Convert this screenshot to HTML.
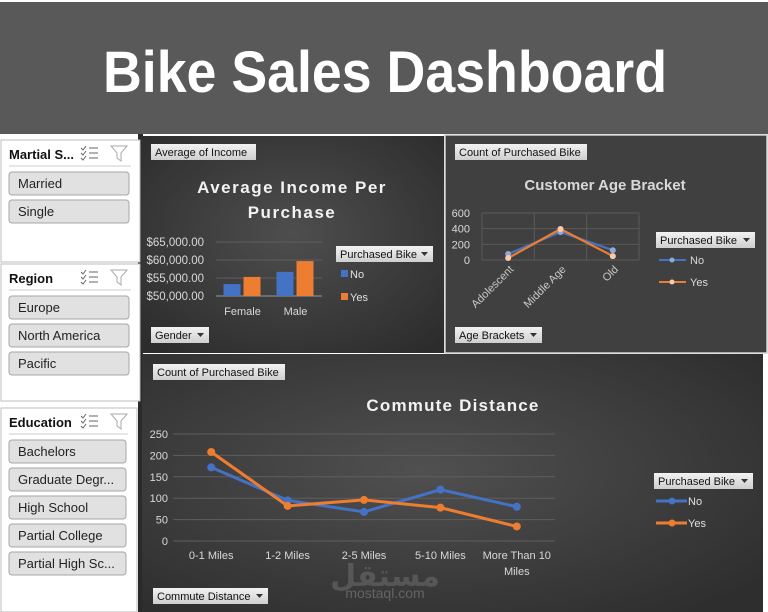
<!DOCTYPE html>
<html><head><meta charset="utf-8"><style>
html,body{margin:0;padding:0;background:#fff;}
svg{display:block;font-family:"Liberation Sans",sans-serif;}
</style></head><body>
<svg id="s" width="768" height="612" viewBox="0 0 768 612" xmlns="http://www.w3.org/2000/svg">
<defs>
<radialGradient id="g1" cx="50%" cy="45%" r="70%"><stop offset="0" stop-color="#4e4e4e"/><stop offset="1" stop-color="#2c2c2c"/></radialGradient>
<radialGradient id="g3" cx="45%" cy="45%" r="70%"><stop offset="0" stop-color="#505050"/><stop offset="1" stop-color="#2e2e2e"/></radialGradient>
<linearGradient id="btn" x1="0" y1="0" x2="0" y2="1"><stop offset="0" stop-color="#f2f2f2"/><stop offset="1" stop-color="#cfcfcf"/></linearGradient>
</defs>
<rect x="0" y="0" width="768" height="612" fill="#ffffff"/>
<g>
<rect x="0" y="2" width="768" height="132" fill="#595959"/>
<text x="385" y="92" text-anchor="middle" font-size="58" font-weight="bold" fill="#fff" textLength="564" lengthAdjust="spacingAndGlyphs">Bike Sales Dashboard</text>
</g>
<rect x="138" y="134" width="5" height="478" fill="#2a2a2a"/>
<rect x="141" y="136" width="303" height="217" fill="url(#g1)"/>
<rect x="445" y="135" width="322" height="218" fill="#404040" stroke="#d0d0d0" stroke-width="1.5"/>
<rect x="142" y="354" width="621" height="258" fill="url(#g3)"/>
<g id="slicers"></g>
<g id="c1"></g><g id="c2"></g><g id="c3"></g>
<text x="385" y="586" text-anchor="middle" font-size="30" font-weight="bold" fill="#6a6a6a" opacity="0.6" font-family="'DejaVu Sans',sans-serif">مستقل</text>
<text x="385" y="598" text-anchor="middle" font-size="14" fill="#777" opacity="0.7">mostaql.com</text>
</svg>
<script>
// Chart 1: Average Income
const genderCats = ["Female", "Male"];
const incomeNo = [53300, 56700];
const incomeYes = [55300, 59700];
const incomeTicks = [50000, 55000, 60000, 65000];
// Chart 2: Age bracket
const ageCats = ["Adolescent", "Middle Age", "Old"];
const ageNo = [77, 358, 125];
const ageYes = [25, 395, 50];
const ageTicks = [0, 200, 400, 600];
// Chart 3: Commute
const commuteCats = ["0-1 Miles", "1-2 Miles", "2-5 Miles", "5-10 Miles", "More Than 10|Miles"];
const commuteNo = [172, 95, 68, 120, 80];
const commuteYes = [208, 82, 96, 78, 34];
const commuteTicks = [0, 50, 100, 150, 200, 250];

const NS = "http://www.w3.org/2000/svg";
function mk(parent, tag, attrs, text) {
  const e = document.createElementNS(NS, tag);
  for (const k in attrs) e.setAttribute(k, attrs[k]);
  if (text !== undefined) e.textContent = text;
  parent.appendChild(e);
  return e;
}
const BLUE = "#4472c4", ORANGE = "#ed7d31";

function fieldBtn(g, x, y, w, label, arrow, name) {
  const b = mk(g, "g", {});
  
  
  mk(b, "rect", {x: x, y: y, width: w, height: 16, fill: "url(#btn)"});
  mk(b, "text", {x: x + 4, y: y + 12, "font-size": 11, fill: "#111"}, label);
  if (arrow) mk(b, "path", {d: `M${x + w - 12} ${y + 6} h7 l-3.5 4z`, fill: "#333"});
}

// Slicers
(function () {
  const g = document.getElementById("slicers");
  const slicers = [
    {title: "Martial S...", y: 140, h: 122, w: 139, items: ["Married", "Single"], name: "marital-status-slicer"},
    {title: "Region", y: 264, h: 137, w: 139, items: ["Europe", "North America", "Pacific"], name: "region-slicer"},
    {title: "Education", y: 408, h: 204, w: 136, items: ["Bachelors", "Graduate Degr...", "High School", "Partial College", "Partial High Sc..."], name: "education-slicer"}
  ];
  slicers.forEach(s => {
    const sg = mk(g, "g", {});
    
    
    mk(sg, "rect", {x: 1, y: s.y, width: s.w, height: s.h, fill: "#fff", stroke: "#bcbcbc"});
    mk(sg, "text", {x: 9, y: s.y + 19, "font-size": 13, "font-weight": "bold", fill: "#111"}, s.title);
    const ic = mk(sg, "g", {stroke: "#666", "stroke-width": 1, fill: "none"});
    
    
    const ix = 81, iy = s.y + 7;
    for (let i = 0; i < 3; i++) { mk(ic, "path", {d: `M${ix} ${iy + i * 5 + 1} l2 2 l3 -4 M${ix + 8} ${iy + i * 5 + 1} h9`}); }
    const fl = mk(sg, "path", {d: `M${111} ${s.y + 6} h16 l-6 7 v8 l-4 -3 v-5z`, fill: "none", stroke: "#aaa"});
    
    
    mk(sg, "line", {x1: 9, y1: s.y + 26, x2: s.w - 8, y2: s.y + 26, stroke: "#ccc"});
    s.items.forEach((it, i) => {
      const by = s.y + 32 + i * 28;
      const bg = mk(sg, "g", {});
      
      
      mk(bg, "rect", {x: 9, y: by, width: s.w - 9 - 10, height: 23, rx: 3, fill: "#e1e1e1", stroke: "#a6a6a6"});
      mk(bg, "text", {x: 18, y: by + 16, "font-size": 13, fill: "#222"}, it);
    });
  });
})();

// Chart 1
(function () {
  const g = document.getElementById("c1");
  fieldBtn(g, 151, 144, 105, "Average of Income", false, "average-of-income-field");
  fieldBtn(g, 151, 327, 58, "Gender", true, "gender-field-button");
  mk(g, "text", {x: 292, y: 193, "text-anchor": "middle", "font-size": 17, "font-weight": "bold", fill: "#f2f2f2", "letter-spacing": 1.5}, "Average Income Per");
  mk(g, "text", {x: 292, y: 218, "text-anchor": "middle", "font-size": 17, "font-weight": "bold", fill: "#f2f2f2", "letter-spacing": 1.5}, "Purchase");
  const x0 = 216, x1 = 322, yb = 296, yt = 242;
  const vmin = incomeTicks[0], vmax = incomeTicks[incomeTicks.length - 1];
  const y = v => yb - (v - vmin) / (vmax - vmin) * (yb - yt);
  incomeTicks.forEach(t => {
    mk(g, "line", {x1: x0, x2: x1, y1: y(t), y2: y(t), stroke: t === vmin ? "#999" : "#5e5e5e"});
    mk(g, "text", {x: 204, y: y(t) + 4, "text-anchor": "end", "font-size": 11.5, fill: "#d9d9d9"}, "$" + t.toLocaleString("en-US") + ".00");
  });
  const cw = (x1 - x0) / genderCats.length;
  genderCats.forEach((c, i) => {
    const cx = x0 + cw * (i + 0.5);
    const bn = mk(g, "rect", {x: cx - 19, y: y(incomeNo[i]), width: 17, height: yb - y(incomeNo[i]), fill: BLUE});
    
    
    const by = mk(g, "rect", {x: cx + 1, y: y(incomeYes[i]), width: 17, height: yb - y(incomeYes[i]), fill: ORANGE});
    
    
    mk(g, "text", {x: cx, y: 315, "text-anchor": "middle", "font-size": 11, fill: "#d9d9d9"}, c);
  });
  fieldBtn(g, 336, 246, 97, "Purchased Bike", true, "purchased-bike-filter");
  mk(g, "rect", {x: 341, y: 270, width: 7, height: 7, fill: BLUE});
  mk(g, "text", {x: 350, y: 278, "font-size": 11, fill: "#e0e0e0"}, "No");
  mk(g, "rect", {x: 341, y: 293, width: 7, height: 7, fill: ORANGE});
  mk(g, "text", {x: 350, y: 301, "font-size": 11, fill: "#e0e0e0"}, "Yes");
})();

// Chart 2
(function () {
  const g = document.getElementById("c2");
  fieldBtn(g, 455, 144, 132, "Count of Purchased Bike", false, "count-of-purchased-bike-field");
  fieldBtn(g, 455, 327, 87, "Age Brackets", true, "age-brackets-field-button");
  mk(g, "text", {x: 605, y: 190, "text-anchor": "middle", "font-size": 15, "font-weight": "bold", fill: "#d9d9d9"}, "Customer Age Bracket");
  const x0 = 482, x1 = 639, yb = 260, yt = 213;
  const vmax = ageTicks[ageTicks.length - 1];
  const y = v => yb - v / vmax * (yb - yt);
  const cw = (x1 - x0) / ageCats.length;
  ageTicks.forEach(t => {
    mk(g, "line", {x1: x0, x2: x1, y1: y(t), y2: y(t), stroke: "#5a5a5a"});
    mk(g, "text", {x: 470, y: y(t) + 4, "text-anchor": "end", "font-size": 11, fill: "#d9d9d9"}, t);
  });
  for (let i = 0; i <= ageCats.length; i++) mk(g, "line", {x1: x0 + cw * i, x2: x0 + cw * i, y1: yt, y2: yb, stroke: "#5a5a5a"});
  const cx = i => x0 + cw * (i + 0.5);
  [[ageNo, BLUE, "no"], [ageYes, ORANGE, "yes"]].forEach(([d, col, nm]) => {
    const l = mk(g, "polyline", {points: d.map((v, i) => cx(i) + "," + y(v)).join(" "), fill: "none", stroke: col, "stroke-width": 2.2});
    
    
    d.forEach((v, i) => mk(g, "circle", {cx: cx(i), cy: y(v), r: 3, fill: nm === "no" ? "#8ea9db" : "#f8cbad"}));
  });
  ageCats.forEach((c, i) => {
    mk(g, "text", {x: cx(i) + 6, y: 270, "text-anchor": "end", "font-size": 11, fill: "#c8c8c8", transform: `rotate(-45 ${cx(i) + 6} 270)`}, c);
  });
  fieldBtn(g, 656, 232, 99, "Purchased Bike", true, "purchased-bike-filter-age");
  mk(g, "line", {x1: 659, x2: 686, y1: 260, y2: 260, stroke: BLUE, "stroke-width": 2});
  mk(g, "circle", {cx: 672, cy: 260, r: 2.5, fill: "#8ea9db"});
  mk(g, "text", {x: 690, y: 264, "font-size": 11, fill: "#d9d9d9"}, "No");
  mk(g, "line", {x1: 659, x2: 686, y1: 282, y2: 282, stroke: ORANGE, "stroke-width": 2});
  mk(g, "circle", {cx: 672, cy: 282, r: 2.5, fill: "#f8cbad"});
  mk(g, "text", {x: 690, y: 286, "font-size": 11, fill: "#d9d9d9"}, "Yes");
})();

// Chart 3
(function () {
  const g = document.getElementById("c3");
  fieldBtn(g, 153, 364, 132, "Count of Purchased Bike", false, "count-of-purchased-bike-field-commute");
  fieldBtn(g, 153, 588, 115, "Commute Distance", true, "commute-distance-field-button");
  mk(g, "text", {x: 453, y: 411, "text-anchor": "middle", "font-size": 17, "font-weight": "bold", fill: "#f2f2f2", "letter-spacing": 1.2}, "Commute Distance");
  const x0 = 173, x1 = 555, yb = 541, yt = 434;
  const vmax = commuteTicks[commuteTicks.length - 1];
  const y = v => yb - v / vmax * (yb - yt);
  const cw = (x1 - x0) / commuteCats.length;
  const cx = i => x0 + cw * (i + 0.5);
  commuteTicks.forEach(t => {
    mk(g, "line", {x1: x0, x2: x1, y1: y(t), y2: y(t), stroke: "#5e5e5e"});
    mk(g, "text", {x: 168, y: y(t) + 4, "text-anchor": "end", "font-size": 11, fill: "#d9d9d9"}, t);
  });
  [[commuteNo, BLUE, "no"], [commuteYes, ORANGE, "yes"]].forEach(([d, col, nm]) => {
    const l = mk(g, "polyline", {points: d.map((v, i) => cx(i) + "," + y(v)).join(" "), fill: "none", stroke: col, "stroke-width": 3});
    
    
    d.forEach((v, i) => mk(g, "circle", {cx: cx(i), cy: y(v), r: 4, fill: col}));
  });
  commuteCats.forEach((c, i) => {
    c.split("|").forEach((p, j) => mk(g, "text", {x: cx(i), y: 559 + j * 16, "text-anchor": "middle", "font-size": 11, fill: "#d9d9d9"}, p));
  });
  fieldBtn(g, 654, 473, 99, "Purchased Bike", true, "purchased-bike-filter-commute");
  mk(g, "line", {x1: 656, x2: 687, y1: 501, y2: 501, stroke: BLUE, "stroke-width": 3});
  mk(g, "circle", {cx: 672, cy: 501, r: 3.5, fill: BLUE});
  mk(g, "text", {x: 688, y: 505, "font-size": 11, fill: "#e0e0e0"}, "No");
  mk(g, "line", {x1: 656, x2: 687, y1: 523, y2: 523, stroke: ORANGE, "stroke-width": 3});
  mk(g, "circle", {cx: 672, cy: 523, r: 3.5, fill: ORANGE});
  mk(g, "text", {x: 688, y: 527, "font-size": 11, fill: "#e0e0e0"}, "Yes");
})();
</script>
</body></html>
